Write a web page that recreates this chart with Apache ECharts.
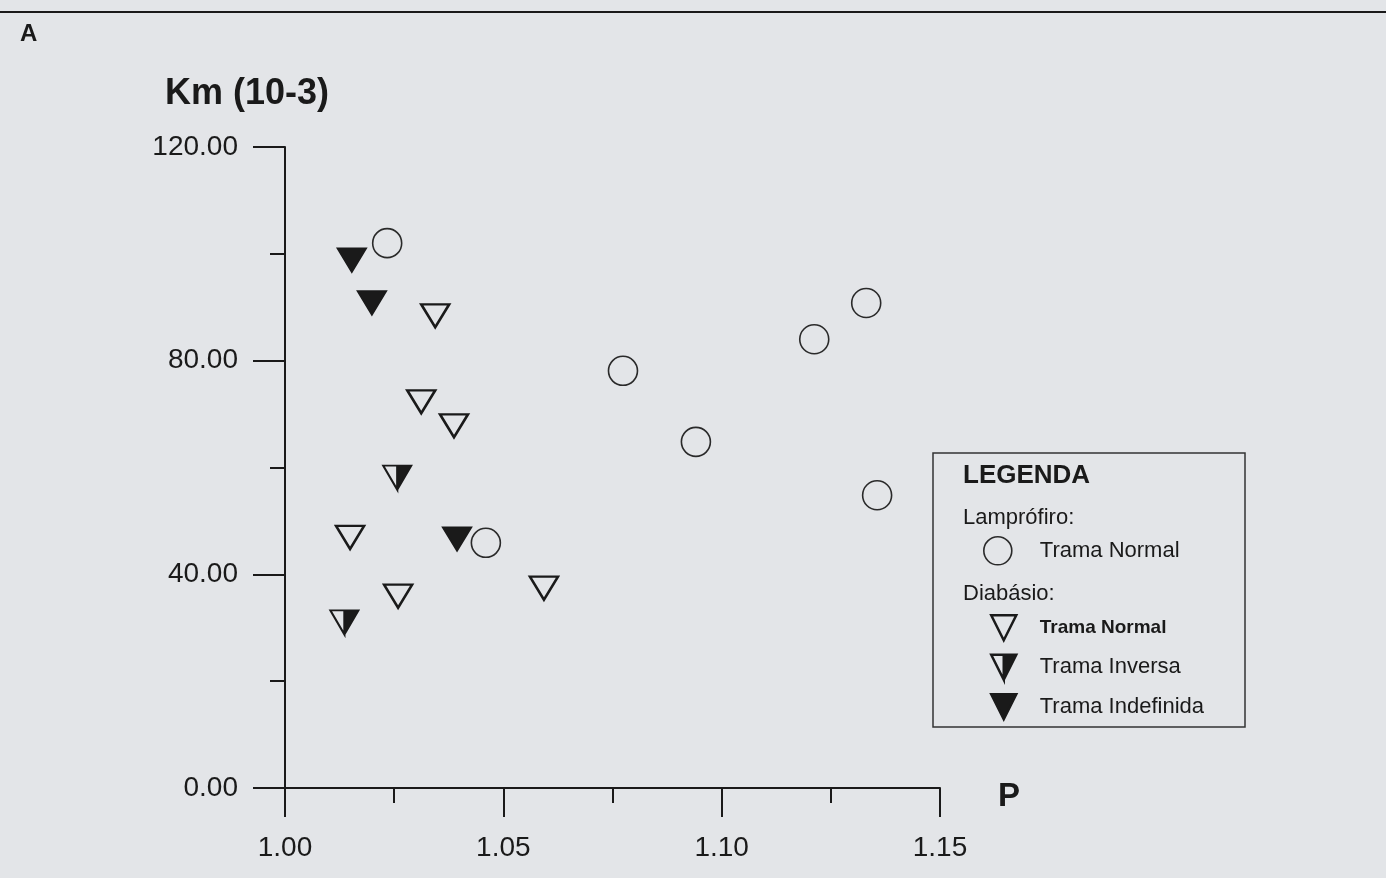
<!DOCTYPE html>
<html>
<head>
<meta charset="utf-8">
<script src="https://cdn.jsdelivr.net/npm/echarts@6/dist/echarts.min.js"></script>
<style>
html,body{margin:0;padding:0;background:#e3e5e8;}
#chart{width:1386px;height:878px;}
</style>
</head>
<body>
<div id="chart"></div>
<script>
// ---- Data (P, Km x10^-3) ----
const lamproNormal = [
  [1.0234, 102.0], [1.0774, 78.1], [1.1331, 90.8], [1.1212, 84.0],
  [1.0941, 64.8], [1.1356, 54.8], [1.0460, 45.9]
];
const diabNormal = [
  [1.0344, 88.4], [1.0312, 72.3], [1.0387, 67.8], [1.0149, 46.9],
  [1.0259, 35.9], [1.0593, 37.4]
];
const diabInversa = [
  [1.0257, 58.1], [1.0136, 31.0]
];
const diabIndefinida = [
  [1.0153, 98.8], [1.0199, 90.8], [1.0394, 46.6]
];
const xTicks = { min: 1.00, max: 1.15, interval: 0.05 };
const yTicks = { min: 0, max: 120, interval: 40 };
const seriesNames = ['Lamprófiro: Trama Normal', 'Diabásio: Trama Normal', 'Trama Inversa', 'Trama Indefinida'];

const FONT = '"Liberation Sans", Arial, sans-serif';
const INK = '#1a1a1a';
const TRI = 'path://M0,0 L2,0 L1,2 Z';
const TRI_HALF = 'path://M0,0 L2,0 L1,2 Z M0,0 L1,2 L1,0 Z';

const chart = echarts.init(document.getElementById('chart'));
chart.setOption({
  backgroundColor: '#e3e5e8',
  animation: false,
  grid: { left: 285, right: 446, top: 147, bottom: 90, containLabel: false },
  xAxis: {
    type: 'value', min: xTicks.min, max: xTicks.max, interval: xTicks.interval,
    axisLine: { show: true, lineStyle: { color: INK, width: 2 } },
    axisTick: { show: true, inside: false, length: 29, lineStyle: { color: INK, width: 2 } },
    minorTick: { show: true, splitNumber: 2, length: 15, lineStyle: { color: INK, width: 2 } },
    splitLine: { show: false },
    axisLabel: { margin: 46, fontFamily: FONT, fontSize: 28, color: INK, formatter: v => v.toFixed(2) }
  },
  yAxis: {
    type: 'value', min: yTicks.min, max: yTicks.max, interval: yTicks.interval,
    name: 'Km (10-3)', nameLocation: 'end', nameGap: 35,
    nameTextStyle: { fontFamily: FONT, fontSize: 36, fontWeight: 'bold', color: INK, align: 'center', padding: [0, 76, 0, 0] },
    axisLine: { show: true, lineStyle: { color: INK, width: 2 } },
    axisTick: { show: true, inside: false, length: 32, lineStyle: { color: INK, width: 2 } },
    minorTick: { show: true, splitNumber: 2, length: 15, lineStyle: { color: INK, width: 2 } },
    splitLine: { show: false },
    axisLabel: { margin: 47, fontFamily: FONT, fontSize: 28, color: INK, formatter: v => v.toFixed(2) }
  },
  legend: [
    {
      data: [seriesNames[0]],
      left: 983, top: 536, orient: 'vertical', padding: 0,
      itemWidth: 30, itemHeight: 28,
      formatter: () => 'Trama Normal',
      textStyle: { fontFamily: FONT, fontSize: 22, color: INK, padding: [0, 0, 0, 22] },
      itemStyle: { borderWidth: 1.6, opacity: 1 }
    },
    {
      data: seriesNames.slice(1),
      left: 990, top: 614, orient: 'vertical', padding: 0,
      itemWidth: 30, itemHeight: 25, itemGap: 12,
      formatter: n => n === seriesNames[1] ? '{b|Trama Normal}' : n,
      textStyle: { fontFamily: FONT, fontSize: 22, color: INK, padding: [0, 0, 0, 16],
        rich: { b: { fontFamily: FONT, fontSize: 19, fontWeight: 'bold', color: INK } } },
      itemStyle: { borderWidth: 2.5, opacity: 1 }
    }
  ],
  graphic: [
    { type: 'line', shape: { x1: 0, y1: 12, x2: 1386, y2: 12 }, style: { stroke: INK, lineWidth: 2 } },
    { type: 'text', left: 20, top: 22, style: { text: 'A', font: 'bold 24px ' + FONT, fill: INK } },
    { type: 'text', left: 998, top: 780, style: { text: 'P', font: 'bold 33px ' + FONT, fill: INK } },
    { type: 'rect', shape: { x: 933, y: 453, width: 312, height: 274 }, style: { fill: 'none', stroke: '#333', lineWidth: 1.5 }, z: 1 },
    { type: 'text', left: 963, top: 463, style: { text: 'LEGENDA', font: 'bold 26px ' + FONT, fill: INK } },
    { type: 'text', left: 963, top: 507, style: { text: 'Lamprófiro:', font: '22px ' + FONT, fill: INK } },
    { type: 'text', left: 963, top: 583, style: { text: 'Diabásio:', font: '22px ' + FONT, fill: INK } }
  ],
  series: [
    {
      name: seriesNames[0], type: 'scatter', data: lamproNormal,
      symbol: 'circle', symbolSize: 29,
      itemStyle: { color: 'transparent', borderColor: '#2a2a2a', borderWidth: 1.6, opacity: 1 }
    },
    {
      name: seriesNames[1], type: 'scatter', data: diabNormal,
      symbol: TRI, symbolSize: [28, 23],
      itemStyle: { color: 'transparent', borderColor: INK, borderWidth: 2.5, opacity: 1 }
    },
    {
      name: seriesNames[2], type: 'scatter', data: diabInversa,
      symbol: TRI_HALF, symbolSize: [28, 24],
      itemStyle: { color: INK, borderColor: INK, borderWidth: 2, opacity: 1 }
    },
    {
      name: seriesNames[3], type: 'scatter', data: diabIndefinida,
      symbol: TRI, symbolSize: [29, 24],
      itemStyle: { color: INK, borderColor: INK, borderWidth: 1.5, opacity: 1 }
    }
  ]
});
</script>
</body>
</html>
